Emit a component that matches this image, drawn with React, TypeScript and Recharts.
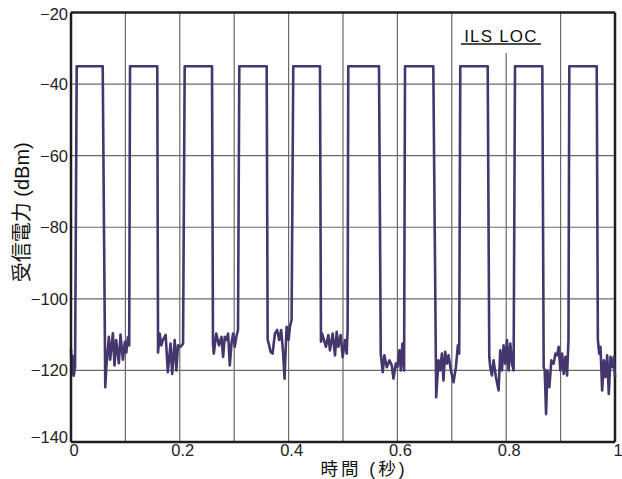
import React from 'react';
import { LineChart, Line, XAxis, YAxis, ReferenceLine, ReferenceArea } from 'recharts';

// Pulse (carrier on) timing, seconds, and level, dBm
const pulseRise = [0.0105, 0.1085, 0.209, 0.3094, 0.4086, 0.5097, 0.614, 0.7156, 0.8162, 0.916];
const pulseFall = [0.0583, 0.1586, 0.2592, 0.3597, 0.4577, 0.5662, 0.666, 0.766, 0.8664, 0.9664];
const pulseLevel = [-35, -35, -35, -35, -35, -35, -35, -35, -35, -35];

// Noise floor between pulses: [time s, level dBm]
const gap0: [number, number][] = [[0, -114], [0.0015, -121], [0.003, -116], [0.005, -121.5], [0.0075, -119]];
const gap1: [number, number][] = [[0.063, -124.7], [0.065, -119], [0.0696, -110.6], [0.072, -117], [0.077, -109.6], [0.08, -118.6], [0.083, -111.5], [0.088, -118], [0.091, -110], [0.0954, -117], [0.099, -112], [0.1017, -115], [0.1046, -110.7], [0.107, -113]];
const gap2: [number, number][] = [[0.16, -115], [0.163, -109.7], [0.166, -113], [0.169, -111.5], [0.174, -110.1], [0.178, -120.5], [0.183, -112.5], [0.186, -121], [0.1906, -111.5], [0.1937, -120], [0.1967, -113], [0.201, -113.4], [0.206, -112.5]];
const gap3: [number, number][] = [[0.261, -112.5], [0.2625, -115.3], [0.267, -109.7], [0.272, -113], [0.2766, -110.6], [0.2796, -116.2], [0.2827, -110.6], [0.2858, -111.5], [0.2888, -109.7], [0.2919, -118.6], [0.295, -112.5], [0.298, -109.7], [0.301, -113.4], [0.304, -110.6], [0.307, -108.7]];
const gap4: [number, number][] = [[0.3615, -111.5], [0.3635, -112.5], [0.3668, -114.8], [0.3705, -115.3], [0.3748, -109.7], [0.379, -108.7], [0.3827, -111.5], [0.3864, -108.7], [0.39, -115.3], [0.3926, -122.3], [0.3963, -107.8], [0.4, -111.5], [0.4024, -107.8], [0.4055, -105.9]];
const gap5: [number, number][] = [[0.4595, -112], [0.4615, -109.7], [0.4687, -113.4], [0.473, -110.1], [0.476, -114.4], [0.481, -109.7], [0.4853, -115.8], [0.4884, -109.2], [0.4914, -113.4], [0.4957, -110.1], [0.4994, -116.3], [0.5037, -111.5], [0.5068, -115.3], [0.5085, -108.7]];
const gap6: [number, number][] = [[0.5694, -115.3], [0.573, -120.5], [0.576, -115.8], [0.5805, -119.1], [0.5853, -117.2], [0.5897, -118.6], [0.5927, -122.3], [0.597, -118.1], [0.6, -119.1], [0.6037, -114.4], [0.6063, -120], [0.6092, -112.5], [0.6123, -120]];
const gap7: [number, number][] = [[0.6713, -127.5], [0.6755, -117.2], [0.6786, -120], [0.6818, -115.3], [0.6847, -122.8], [0.6878, -114.8], [0.691, -118.1], [0.694, -115.8], [0.6983, -120], [0.7031, -123.3], [0.7075, -119.1], [0.7112, -113], [0.7136, -115.3]];
const gap8: [number, number][] = [[0.7689, -116.3], [0.7707, -119.1], [0.7738, -121.4], [0.7768, -117.2], [0.7812, -121.9], [0.786, -125.6], [0.7891, -114.4], [0.7922, -120], [0.7952, -113], [0.7983, -118.1], [0.8015, -111.5], [0.8044, -120], [0.8076, -112.5], [0.8107, -118.1], [0.8136, -120]];
const gap9: [number, number][] = [[0.8689, -119.1], [0.8708, -120], [0.8733, -132.2], [0.8757, -120], [0.8794, -124.7], [0.883, -117.2], [0.8873, -118.1], [0.8904, -115.3], [0.8935, -115.8], [0.8965, -113.4], [0.8996, -120], [0.9028, -115.3], [0.9057, -121], [0.9088, -116.2], [0.9119, -121.4], [0.9145, -111.5]];
const gap10: [number, number][] = [[0.9685, -111.5], [0.971, -115.3], [0.9733, -113.4], [0.9764, -125.6], [0.9794, -117.2], [0.9825, -121.9], [0.9856, -115.8], [0.9886, -126.6], [0.9917, -116.2], [0.9948, -119.1], [0.9978, -116.2], [1.0, -121.9]];

const gaps = [gap0, gap1, gap2, gap3, gap4, gap5, gap6, gap7, gap8, gap9, gap10];

const xTicks = [0, 0.2, 0.4, 0.6, 0.8, 1];
const xGridValues = [0.1, 0.2, 0.3, 0.4, 0.5, 0.6, 0.7, 0.9];
const yTicks = [-140, -120, -100, -80, -60, -40, -20];
const yGridValues = [-120, -100, -80, -60, -40];

const xTitle = '時間 (秒)';
const yTitle = '受信電力 (dBm)';
const annotation = 'ILS LOC';

const data: { t: number; v: number }[] = [];
gaps.forEach((g, i) => {
  g.forEach(([t, v]) => data.push({ t, v }));
  if (i < pulseRise.length) {
    data.push({ t: pulseRise[i], v: pulseLevel[i] });
    data.push({ t: pulseFall[i], v: pulseLevel[i] });
  }
});

const FONT = "'Liberation Sans', Arial, 'Noto Sans CJK JP', sans-serif";
const GRID = '#6a6a6a';
const AXIS = '#1e1e1e';

const renderXTitle = (p: any) => {
  const vb = p.viewBox;
  return (
    <text x={vb.x + vb.width / 2 + 21} y={vb.y + 26.5} textAnchor="middle" dominantBaseline="central"
      fontSize={17.5} letterSpacing={3} fill="#111" fontFamily={FONT}>{xTitle}</text>
  );
};

const renderYTitle = (p: any) => {
  const vb = p.viewBox;
  const cx = 21.5;
  const cy = vb.y + vb.height / 2 - 15;
  return (
    <text x={cx} y={cy} textAnchor="middle" dominantBaseline="central" transform={`rotate(-90 ${cx} ${cy})`}
      fontSize={20} fill="#111" fontFamily={FONT}>{yTitle}</text>
  );
};

const renderAnnotation = (p: any) => {
  const vb = p.viewBox;
  const cx = vb.x + vb.width / 2 - 2;
  const by = vb.y + 29;
  return (
    <g>
      <text x={cx} y={by} textAnchor="middle" fontSize={17} letterSpacing={1.2} fill="#111" fontFamily={FONT}>{annotation}</text>
      <line x1={cx - 40} x2={cx + 40} y1={by + 2.5} y2={by + 2.5} stroke="#111" strokeWidth={1.5} />
    </g>
  );
};

const renderYTick = (p: any) => {
  const v = p.payload.value;
  const dy = v === -140 ? -5 : v === -20 ? 1 : 0;
  return (
    <text x={p.x} y={p.y + dy} textAnchor="end" dominantBaseline="central" fontSize={16.5}
      fill="#222" fontFamily={FONT}>{String(v).replace('-', '\u2212')}</text>
  );
};

export default function App() {
  return (
    <div style={{ position: 'absolute', left: 0, top: 0, width: 622, height: 479, background: '#fff' }}>
      <LineChart width={622} height={479} data={data} margin={{ top: 12.5, right: 7, bottom: 0, left: 0 }}>
        {yGridValues.map((y) => (
          <ReferenceLine key={'h' + y} y={y} stroke={GRID} strokeWidth={1.2} />
        ))}
        {xGridValues.map((x) => (
          <ReferenceLine key={'v' + x} x={x} stroke={GRID} strokeWidth={1.2} />
        ))}
        <ReferenceLine segment={[{ x: 0.8, y: -140 }, { x: 0.8, y: -31.3 }]} stroke={GRID} strokeWidth={1.2} />
        <ReferenceArea x1={0.708} x2={0.88} y1={-31.3} y2={-20} fill="#fff" fillOpacity={1} stroke="none"
          label={renderAnnotation} />
        <XAxis dataKey="t" type="number" domain={[0, 1]} ticks={xTicks} interval={0} height={37}
          tickLine={false} tickSize={0} tickMargin={2}
          axisLine={{ stroke: AXIS, strokeWidth: 2.5 }}
          tick={{ fill: '#222', fontSize: 16.5, fontFamily: FONT, dx: 3 }}
          tickFormatter={(v: number) => String(v)}
          label={renderXTitle} />
        <YAxis type="number" domain={[-140, -20]} ticks={yTicks} interval={0} width={71}
          tickLine={false} tickSize={0} tickMargin={3}
          axisLine={{ stroke: AXIS, strokeWidth: 2.5 }}
          tick={renderYTick}
          label={renderYTitle} />
        <ReferenceLine y={-20} stroke={AXIS} strokeWidth={2.5} />
        <ReferenceLine x={1} stroke={AXIS} strokeWidth={2.5} />
        <Line type="linear" dataKey="v" stroke="#45376d" strokeWidth={2.6} dot={false}
          strokeLinejoin="round" isAnimationActive={false} />
      </LineChart>
    </div>
  );
}
